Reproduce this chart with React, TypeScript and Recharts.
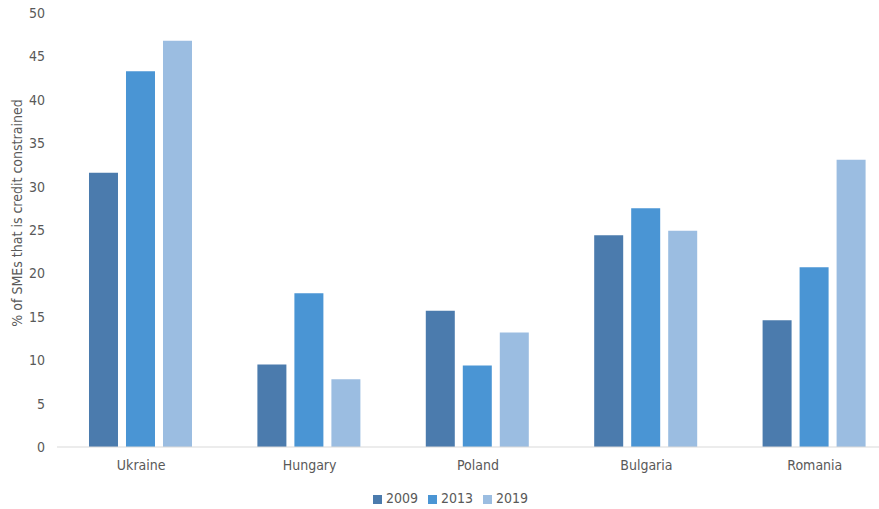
import { BarChart, Bar, XAxis, YAxis, Legend } from "recharts";

const countries = ["Ukraine", "Hungary", "Poland", "Bulgaria", "Romania"];
const values2009 = [31.6, 9.5, 15.7, 24.4, 14.6];
const values2013 = [43.3, 17.7, 9.4, 27.5, 20.7];
const values2019 = [46.8, 7.8, 13.2, 24.9, 33.1];
const yTicks = [0, 5, 10, 15, 20, 25, 30, 35, 40, 45, 50];

const data = countries.map((c, i) => ({
  country: c,
  y2009: values2009[i],
  y2013: values2013[i],
  y2019: values2019[i],
}));

const FONT = "'Liberation Sans Narrow', 'DejaVu Sans Condensed', 'Open Sans', sans-serif";
const TEXT = "#595959";

const AxisTitle = () => (
  <text
    x={17}
    y={213}
    transform="rotate(-90, 17, 213)"
    textAnchor="middle"
    dominantBaseline="central"
    fill={TEXT}
    fontSize={14}
    fontFamily={FONT}
  >
    % of SMEs that is credit constrained
  </text>
);

export default function App() {
  return (
    <div style={{ position: "absolute", top: 0, left: 0, width: 879, height: 509, overflow: "hidden", background: "#fff" }}>
      <BarChart
        width={900}
        height={509}
        data={data}
        margin={{ top: 13, right: 1, left: 0, bottom: 0 }}
        barCategoryGap="19%"
        barGap={8}
      >
        <XAxis
          dataKey="country"
          stroke="#d9d9d9"
          tickLine={false}
          tickSize={0}
          tickMargin={13}
          height={46}
          tick={{ fill: TEXT, fontSize: 14, fontFamily: FONT }}
        />
        <YAxis
          width={57}
          domain={[0, 50]}
          ticks={yTicks}
          axisLine={false}
          tickLine={false}
          tickSize={0}
          tickMargin={12}
          tick={{ fill: TEXT, fontSize: 14, fontFamily: FONT }}
          label={<AxisTitle />}
        />
        <Legend
          verticalAlign="bottom"
          align="center"
          iconType="square"
          iconSize={9}
          wrapperStyle={{ fontFamily: FONT, fontSize: 14, lineHeight: "16px", top: 490, left: 6, bottom: "auto", height: 16 }}
          formatter={(v) => <span style={{ color: TEXT }}>{v}</span>}
        />
        <Bar dataKey="y2009" name="2009" fill="#4b7bad" isAnimationActive={false} />
        <Bar dataKey="y2013" name="2013" fill="#4a95d4" isAnimationActive={false} />
        <Bar dataKey="y2019" name="2019" fill="#9bbde1" isAnimationActive={false} />
      </BarChart>
    </div>
  );
}
